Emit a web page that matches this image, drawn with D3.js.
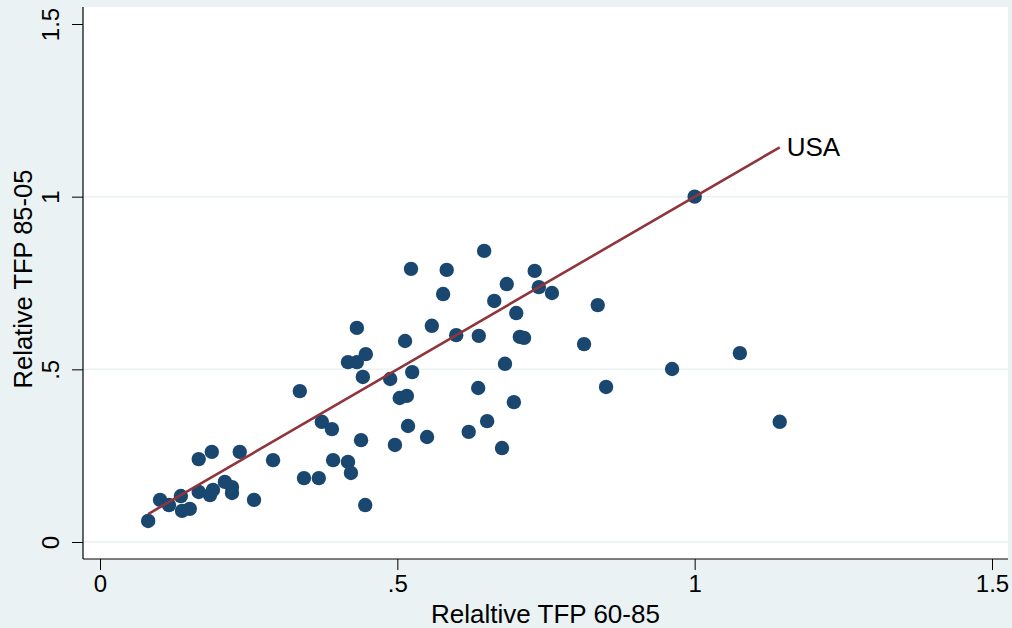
<!DOCTYPE html>
<html>
<head>
<meta charset="utf-8">
<script src="https://cdn.jsdelivr.net/npm/d3@7"></script>
<style>
  html, body { margin: 0; padding: 0; background: #eaf2f3; }
  svg { display: block; font-family: "Liberation Sans", Arial, sans-serif; }
</style>
</head>
<body>
<svg id="chart" width="1012" height="628"></svg>
<script>
// Relative TFP (USA = 1), 1960-85 vs 1985-05
const tfp6085 = [
  .081, .101, .116, .136, .138, .151, .166, .166, .188, .185,
  .190, .210, .222, .222, .235, .259, .291, .336, .343, .368,
  .373, .390, .392, .417, .422, .417, .432, .432, .447, .442,
  .439, .446, .488, .504, .513, .516, .518, .523, .525, .496,
  .550, .558, .577, .583, .599, .620, .636, .637, .646, .651,
  .663, .676, .681, .684, .696, .700, .706, .713, .731, .738,
  .760, .814, .837, .851, .962, 1.0, 1.076, 1.143
];
const tfp8505 = [
  .061, .122, .107, .133, .090, .096, .240, .145, .261, .136,
  .151, .174, .159, .142, .261, .122, .237, .437, .185, .185,
  .348, .327, .237, .232, .200, .521, .521, .620, .544, .478,
  .295, .107, .472, .417, .582, .423, .336, .791, .492, .281,
  .304, .626, .718, .788, .599, .319, .446, .597, .843, .350,
  .698, .272, .516, .747, .405, .663, .594, .591, .785, .738,
  .721, .573, .686, .449, .501, 1.0, .547, .348
];
const tickValues = [0, .5, 1, 1.5];
const tickLabels = ['0', '.5', '1', '1.5'];
const gridValues = [0, .5, 1];

(function() {
  'use strict';

  let svg = d3.select('#chart'),
      plot = { left: 83, top: 7, right: 1008, bottom: 559 },

      x = d3.scaleLinear().domain([0, 1.5]).range([100, 992]),
      y = d3.scaleLinear().domain([0, 1.5]).range([542, 24]),

      fmt = d => tickLabels[tickValues.indexOf(d)];

  // plot region
  svg.append('rect')
    .attr('x', plot.left)
    .attr('y', plot.top)
    .attr('width', plot.right - plot.left)
    .attr('height', plot.bottom - plot.top)
    .attr('fill', '#fff');

  // gridlines
  svg.append('g')
    .selectAll('line')
    .data(gridValues)
    .enter()
    .append('line')
      .attr('x1', plot.left)
      .attr('x2', plot.right)
      .attr('y1', d => y(d))
      .attr('y2', d => y(d))
      .attr('stroke', '#eaf2f3')
      .attr('stroke-width', 1.5);

  // axes
  let xAxis = svg.append('g')
    .attr('transform', `translate(0,${plot.bottom})`)
    .call(d3.axisBottom(x).tickValues(tickValues).tickFormat(fmt).tickSize(11).tickSizeOuter(0));

  let yAxis = svg.append('g')
    .attr('transform', `translate(${plot.left},0)`)
    .call(d3.axisLeft(y).tickValues(tickValues).tickFormat(fmt).tickSize(11).tickSizeOuter(0));

  [xAxis, yAxis].forEach(a => {
    a.select('.domain').remove();
    a.selectAll('line').attr('stroke', '#000');
    a.selectAll('text')
      .attr('fill', '#000')
      .style('font-size', '24px')
      .style('font-family', '"Liberation Sans", Arial, sans-serif');
  });

  xAxis.selectAll('text').attr('y', 16).attr('dy', '0.71em');
  yAxis.selectAll('text')
    .attr('x', null)
    .attr('dy', null)
    .attr('text-anchor', 'middle')
    .attr('transform', 'translate(-24,0) rotate(-90)')
    .attr('y', 0);

  svg.append('line')
    .attr('x1', plot.left).attr('x2', plot.right)
    .attr('y1', plot.bottom).attr('y2', plot.bottom)
    .attr('stroke', '#000').attr('stroke-width', 1.2);
  svg.append('line')
    .attr('x1', plot.left).attr('x2', plot.left)
    .attr('y1', plot.top).attr('y2', plot.bottom)
    .attr('stroke', '#000').attr('stroke-width', 1.2);

  // points
  let points = tfp6085.map((v, i) => ({ x: v, y: tfp8505[i] }));

  svg.append('g')
    .selectAll('circle')
    .data(points)
    .enter()
    .append('circle')
      .attr('cx', d => x(d.x))
      .attr('cy', d => y(d.y))
      .attr('r', 7.2)
      .attr('fill', '#1a476f');

  // 45 degree line, from min to max of the x data
  let ext = d3.extent(tfp6085);
  svg.append('path')
    .datum(ext)
    .attr('d', d3.line().x(d => x(d)).y(d => y(d)))
    .attr('fill', 'none')
    .attr('stroke', '#90353b')
    .attr('stroke-width', 2.6);

  svg.append('text')
    .attr('x', x(ext[1]) + 7)
    .attr('y', y(ext[1]) + 9)
    .style('font-size', '26px')
    .text('USA');

  // axis titles
  svg.append('text')
    .attr('x', (plot.left + plot.right) / 2)
    .attr('y', 623)
    .attr('text-anchor', 'middle')
    .style('font-size', '26px')
    .text('Relaltive TFP 60-85');

  svg.append('text')
    .attr('transform', 'translate(32,279) rotate(-90)')
    .attr('text-anchor', 'middle')
    .style('font-size', '25.5px')
    .text('Relative TFP 85-05');
})();
</script>
</body>
</html>
